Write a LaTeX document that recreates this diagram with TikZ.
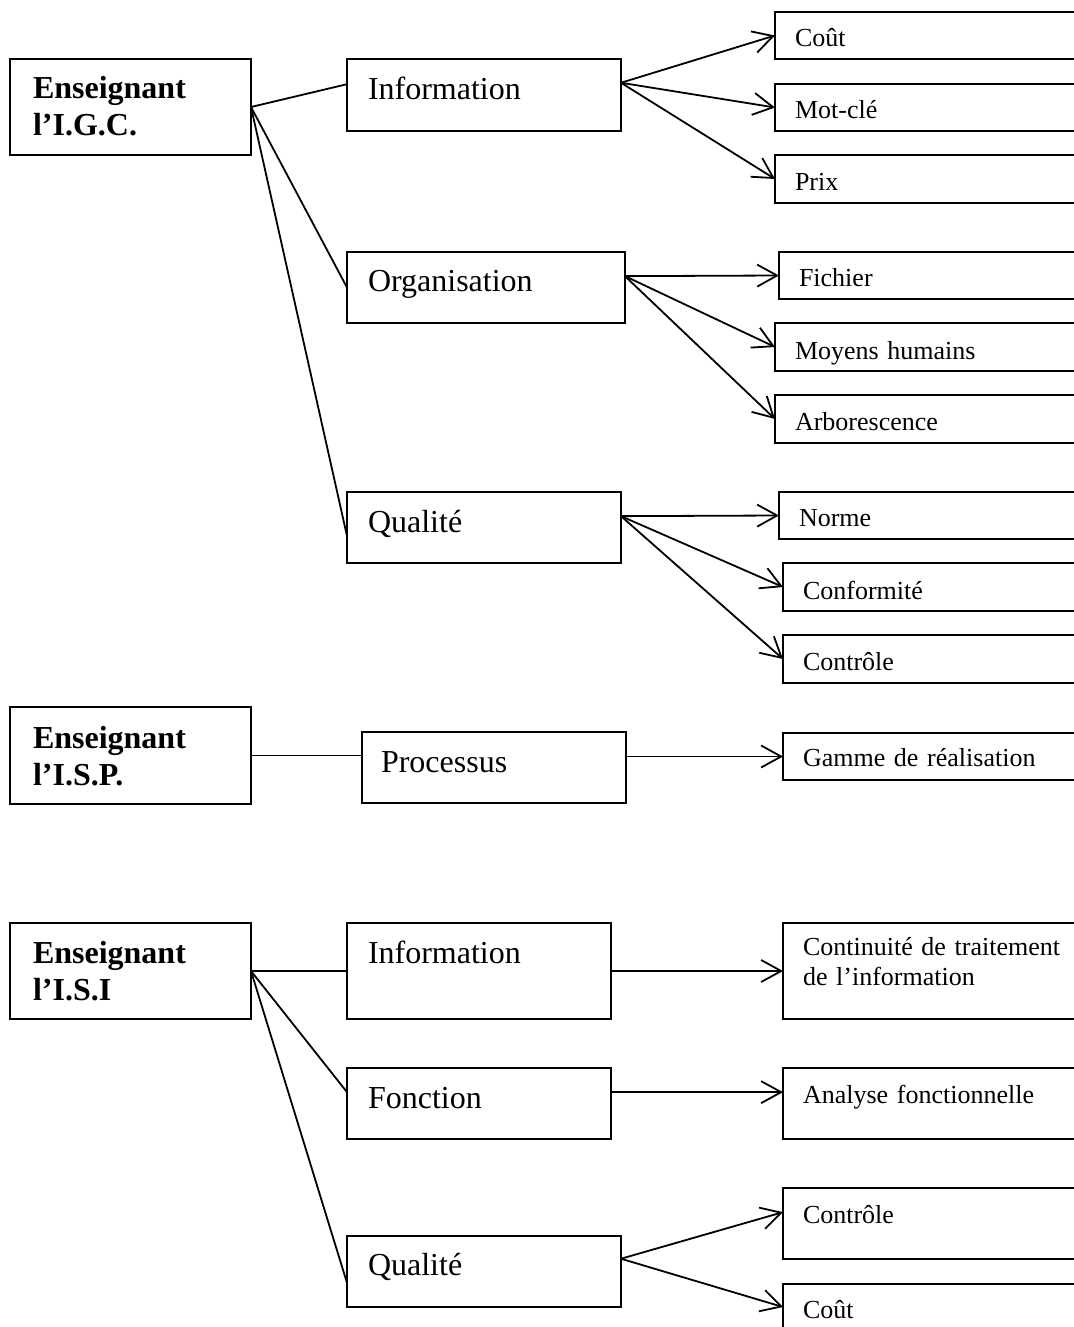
\documentclass[tikz,border=0pt]{standalone}
\usepackage{fontspec}
\setmainfont{Liberation Serif}
\usetikzlibrary{arrows.meta,calc}

\tikzset{
  box/.style={draw, line width=0.9pt, rectangle, anchor=north west, outer sep=0pt, inner ysep=0pt, align=left},
  teacher/.style={box, inner xsep=11.5pt, text width=97.5pt, font=\fontsize{16}{18.5}\selectfont\bfseries},
  theme/.style={box, inner xsep=10.5pt, font=\fontsize{16}{18.4}\selectfont},
  item/.style={box, inner xsep=10pt, text width=220pt, font=\fontsize{13}{15}\selectfont},
  link/.style={line width=0.9pt},
  arrow/.style={link, -{Straight Barb[length=10pt,width=11pt]}},
}

\begin{document}
\begin{tikzpicture}[x=0.5pt,y=-0.5pt]
\useasboundingbox (0,0) rectangle (1074,1327);
% the item boxes run off the right edge of the page
\clip (-20,-20) rectangle (1100,1360);

% I.G.C.
\node[teacher, text height=19.5pt, text depth=28.5pt] (igc) at (10,59) {Enseignant\\l’I.G.C.};
\node[theme, text width=116pt, text height=20.5pt, text depth=15.5pt] (info1) at (347,59) {Information};
\node[theme, text width=118pt, text height=19.5pt, text depth=16pt] (orga) at (347,252) {Organisation};
\node[theme, text width=116pt, text height=20pt, text depth=15.5pt] (qual1) at (347,492) {Qualité};
\coordinate (info1-in) at ($(info1.north west)!0.35!(info1.south west)$);
\coordinate (qual1-in) at ($(qual1.north west)!0.62!(qual1.south west)$);
\draw[link] (igc.east) -- (info1-in);
\draw[link] (igc.east) -- (orga.west);
\draw[link] (igc.east) -- (qual1-in);

\node[item, text height=17.5pt, text depth=6pt] (cout1) at (775,12) {Coût};
\node[item, text height=17.5pt, text depth=6pt] (motcle) at (775,84) {Mot-clé};
\node[item, text height=17.5pt, text depth=6.5pt] (prix) at (775,155) {Prix};
\coordinate (info1-out) at ($(info1.north east)!0.33!(info1.south east)$);
\draw[arrow] (info1-out) -- (cout1.west);
\draw[arrow] (info1-out) -- (motcle.west);
\draw[arrow] (info1-out) -- (prix.west);

\node[item, text height=17pt, text depth=6.5pt] (fichier) at (779,252) {Fichier};
\node[item, text height=18pt, text depth=6pt] (moyens) at (775,323) {Moyens humains};
\node[item, text height=17.5pt, text depth=6.5pt] (arbo) at (775,395) {Arborescence};
\coordinate (orga-out) at ($(orga.north east)!0.34!(orga.south east)$);
\draw[arrow] (orga-out) -- (fichier.west);
\draw[arrow] (orga-out) -- (moyens.west);
\draw[arrow] (orga-out) -- (arbo.west);

\node[item, text height=17pt, text depth=6.5pt] (norme) at (779,492) {Norme};
\node[item, text height=18pt, text depth=6pt] (conf) at (783,563) {Conformité};
\node[item, text height=17.5pt, text depth=6.5pt] (ctrl1) at (783,635) {Contrôle};
\coordinate (qual1-out) at ($(qual1.north east)!0.34!(qual1.south east)$);
\draw[arrow] (qual1-out) -- (norme.west);
\draw[arrow] (qual1-out) -- (conf.west);
\draw[arrow] (qual1-out) -- (ctrl1.west);

% I.S.P.
\node[teacher, text height=20.5pt, text depth=28pt] (isp) at (10,707) {Enseignant\\l’I.S.P.};
\node[theme, inner xsep=9.5pt, text width=113pt, text height=20pt, text depth=15.5pt] (proc) at (362,732) {Processus};
\node[item, text height=16.5pt, text depth=7pt] (gamme) at (783,733) {Gamme de réalisation};
\draw[link] (isp.east) -- (isp.east -| proc.west);
\draw[arrow] (proc.east |- gamme.west) -- (gamme.west);

% I.S.I
\node[teacher, text height=20pt, text depth=28pt] (isi) at (10,923) {Enseignant\\l’I.S.I};
\node[theme, text width=111pt, text height=20pt, text depth=28pt] (info3) at (347,923) {Information};
\node[theme, text width=111pt, text height=20pt, text depth=15.5pt] (fonc) at (347,1068) {Fonction};
\node[theme, text width=116pt, text height=19.5pt, text depth=16pt] (qual3) at (347,1236) {Qualité};
\coordinate (fonc-in) at ($(fonc.north west)!0.34!(fonc.south west)$);
\coordinate (qual3-in) at ($(qual3.north west)!0.66!(qual3.south west)$);
\draw[link] (isi.east) -- (info3.west);
\draw[link] (isi.east) -- (fonc-in);
\draw[link] (isi.east) -- (qual3-in);

\node[item, text height=16pt, text depth=32pt] (cont) at (783,923) {Continuité de traitement\\de l’information};
\node[item, text height=17.5pt, text depth=18pt] (analyse) at (783,1068) {Analyse fonctionnelle};
\draw[arrow] (info3.east) -- (cont.west);
\draw[arrow] (fonc-in -| fonc.east) -- (fonc-in -| analyse.west);

\node[item, text height=17.5pt, text depth=18pt] (ctrl3) at (783,1188) {Contrôle};
\node[item, text height=17pt, text depth=21pt] (cout3) at (783,1284) {Coût};
\coordinate (qual3-out) at ($(qual3.north east)!0.32!(qual3.south east)$);
\coordinate (ctrl3-in) at ($(ctrl3.north west)!0.34!(ctrl3.south west)$);
\coordinate (cout3-in) at ($(cout3.north west)+(0,23)$);
\draw[arrow] (qual3-out) -- (ctrl3-in);
\draw[arrow] (qual3-out) -- (cout3-in);
\end{tikzpicture}
\end{document}
